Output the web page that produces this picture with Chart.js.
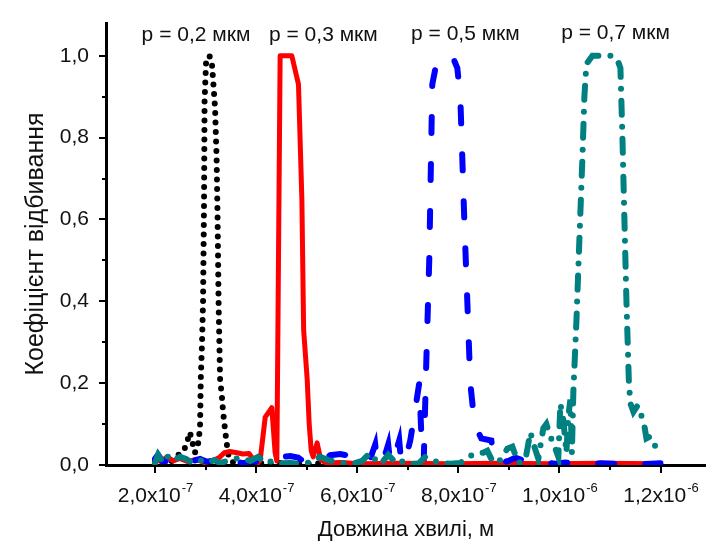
<!DOCTYPE html>
<html>
<head>
<meta charset="utf-8">
<script src="https://cdn.jsdelivr.net/npm/chart.js@4.4.0/dist/chart.umd.min.js"></script>
<style>
  html, body { margin: 0; padding: 0; background: #fff; }
  canvas { display: block; }
</style>
</head>
<body>
<canvas id="reflChart" width="706" height="544"></canvas>
<script>
// wavelength, nm  /  reflection coefficient
var wl02 = [200, 210, 220, 230, 240, 250, 257, 263, 269, 275, 279, 285, 289, 290.5, 293, 295, 297, 298, 301, 307.5,
            312.3, 315.5, 318.8, 321.8, 323.8, 325.7, 328.7, 332.1, 334.6, 338.6, 342.6, 346.5, 355, 370, 390, 420, 450, 490, 540, 600];
var r02  = [0.01, 0.005, 0.012, 0.006, 0.02, 0.028, 0.035, 0.055, 0.08, 0.05, 0.03, 0.05, 0.09, 0.21, 0.3, 0.4, 0.65, 0.89, 0.985, 1.0,
            0.985, 0.93, 0.87, 0.75, 0.6, 0.4, 0.21, 0.17, 0.13, 0.085, 0.045, 0.015, 0.006, 0.004, 0.006, 0.003, 0.005, 0.003, 0.004, 0.003];

var wl03 = [200, 212, 224, 236, 249, 265, 281, 297, 313, 327, 337, 348, 362, 374, 386, 394, 404, 408, 418, 431,
            437.6, 441, 447.5, 470.6, 483.8, 490.5, 494, 501, 505, 509, 512.8, 520.7, 528, 540, 566, 606, 685, 784, 883, 982, 1081, 1200];
var r03  = [0.015, 0.008, 0.02, 0.01, 0.016, 0.008, 0.014, 0.006, 0.01, 0.018, 0.03, 0.033, 0.03, 0.027, 0.028, 0.014, 0.006, 0.012, 0.117, 0.14,
            0.03, 0.01, 1.0, 1.0, 0.93, 0.65, 0.33, 0.21, 0.1, 0.035, 0.02, 0.054, 0.012, 0.004, 0.006, 0.003, 0.004, 0.003, 0.004, 0.003, 0.004, 0.003];

var wl05 = [200, 206, 214, 230, 245.5, 259.4, 275.2, 289, 303, 318.8, 338.6, 362.4, 374.2, 392, 411.9, 431.7, 451.5, 467.3, 483.1, 495,
            510.9, 530.7, 546.5, 566.3, 586.1, 598, 609.9, 617.8, 625.7, 635.6, 639.5, 651.4, 661.3, 665.3, 671.2, 683.1, 687.1, 695, 704.9, 712.8,
            722.7, 727.7, 731.6, 736.6, 742.5, 748.5, 756.4, 778.2, 788.1, 798, 803.9, 807.9, 811.8, 817.8, 823.7, 829.6, 835.6, 845.5, 865.3, 871.2,
            883.1, 899, 912.8, 926.7, 942.5, 972.2, 992, 1011.8, 1041.5, 1081.1, 1120.7, 1160.3, 1199.9];
var r05  = [0.015, 0.025, 0.01, 0.008, 0.015, 0.006, 0.01, 0.015, 0.008, 0.012, 0.006, 0.008, 0.004, 0.01, 0.005, 0.01, 0.02, 0.022, 0.018, 0.008,
            0.005, 0.01, 0.024, 0.027, 0.022, 0.008, 0.005, 0.005, 0.015, 0.05, 0.005, 0.01, 0.05, 0.005, 0.01, 0.06, 0.005, 0.01, 0.06, 0.12,
            0.2, 0.05, 0.01, 0.25, 0.5, 0.93, 0.98, 1.0, 1.0, 0.97, 0.9, 0.75, 0.6, 0.4, 0.2, 0.13, 0.09, 0.065, 0.06, 0.01,
            0.005, 0.01, 0.018, 0.012, 0.005, 0.006, 0.003, 0.006, 0.003, 0.004, 0.003, 0.002, 0.004];

var wl07 = [200, 206, 214, 221.8, 233.7, 249.5, 261.4, 273.3, 289, 303, 316.8, 328.7, 348.5, 368.3, 388.1, 403.9, 417.8, 431.7, 447.5, 467.3,
            487.1, 506.9, 526.7, 542.5, 558.4, 576.2, 596, 609.9, 621.7, 631.6, 641.5, 651.4, 661.3, 671.2, 681.1, 691, 704.9, 720.7, 734.6, 748.5,
            764.3, 784.1, 803.9, 819.7, 837.5, 849.4, 857.4, 869.3, 883.1, 897, 906.9, 918.7, 932.6, 942.5, 950.4, 958.3, 968.2, 974.2, 982.1, 992,
            997.9, 1001.9, 1007.8, 1013.8, 1017.7, 1021.7, 1024.7, 1027.6, 1033.6, 1039.5, 1045.5, 1049.4, 1053.4, 1065.3, 1104.9, 1114.8, 1120.7, 1124.7, 1128.6, 1132.6,
            1137.5, 1140.5, 1146.4, 1154.4, 1162.3, 1168.2, 1172.2, 1180.1, 1190, 1203.9];
var r07  = [0.005, 0.025, 0.01, 0.025, 0.01, 0.02, 0.015, 0.005, 0.012, 0.005, 0.012, 0.005, 0.012, 0.018, 0.01, 0.02, 0.005, 0.01, 0.004, 0.005,
            0.003, 0.006, 0.02, 0.012, 0.008, 0.004, 0.005, 0.01, 0.025, 0.01, 0.022, 0.01, 0.025, 0.012, 0.018, 0.006, 0.003, 0.003, 0.02, 0.012,
            0.005, 0.003, 0.005, 0.02, 0.03, 0.03, 0.035, 0.005, 0.012, 0.04, 0.045, 0.005, 0.012, 0.08, 0.045, 0.015, 0.09, 0.1, 0.07, 0.04,
            0.02, 0.15, 0.11, 0.03, 0.12, 0.16, 0.03, 0.18, 0.35, 0.55, 0.75, 0.9, 0.98, 1.0, 1.0, 0.99, 0.97, 0.8, 0.6, 0.4,
            0.2, 0.15, 0.13, 0.145, 0.12, 0.095, 0.065, 0.07, 0.045, 0.04];

var peakLabels = ['p = 0,2 мкм', 'p = 0,3 мкм', 'p = 0,5 мкм', 'p = 0,7 мкм'];
var peakLabelX = [281, 533, 814, 1111];
var peakLabelY = [1.049, 1.049, 1.052, 1.054];

var xMajor = [200, 400, 600, 800, 1000, 1200];
var xMinor = [300, 500, 700, 900, 1100];
var xMantissa = ['2,0x10', '4,0x10', '6,0x10', '8,0x10', '1,0x10', '1,2x10'];
var xExponent = ['-7', '-7', '-7', '-7', '-6', '-6'];
var yMajor = [0, 0.2, 0.4, 0.6, 0.8, 1.0];
var yMinor = [0.1, 0.3, 0.5, 0.7, 0.9];

var FONT = "'Liberation Sans', Arial, sans-serif";
var INK = '#111';

function pts(xs, ys) {
  return xs.map(function (x, i) { return { x: x, y: ys[i] }; });
}

// tick marks (major + minor), x labels with raised exponent, peak captions
var axisDecor = {
  id: 'axisDecor',
  afterDraw: function (chart) {
    var ctx = chart.ctx, xs = chart.scales.x, ys = chart.scales.y, a = chart.chartArea;
    ctx.save();
    ctx.strokeStyle = '#000';
    ctx.lineWidth = 2;
    function tick(x1, y1, x2, y2) {
      ctx.beginPath(); ctx.moveTo(x1, y1); ctx.lineTo(x2, y2); ctx.stroke();
    }
    xMajor.forEach(function (v) { var p = Math.round(xs.getPixelForValue(v)); tick(p, a.bottom, p, a.bottom + 8); });
    xMinor.forEach(function (v) { var p = Math.round(xs.getPixelForValue(v)); tick(p, a.bottom, p, a.bottom + 5); });
    yMajor.forEach(function (v) { var p = Math.round(ys.getPixelForValue(v)); tick(a.left, p, a.left - 7, p); });
    yMinor.forEach(function (v) { var p = Math.round(ys.getPixelForValue(v)); tick(a.left, p, a.left - 4, p); });

    ctx.fillStyle = INK;
    ctx.textBaseline = 'middle';
    ctx.textAlign = 'left';
    var big = '21px ' + FONT, small = '13px ' + FONT;
    xMajor.forEach(function (v, i) {
      ctx.font = big;
      var w1 = ctx.measureText(xMantissa[i]).width;
      ctx.font = small;
      var w2 = ctx.measureText(xExponent[i]).width;
      var left = xs.getPixelForValue(v) - (w1 + w2) / 2;
      var cy = a.bottom + 31;
      ctx.font = big;
      ctx.fillText(xMantissa[i], left, cy);
      ctx.font = small;
      ctx.fillText(xExponent[i], left + w1 + 1, cy - 8);
    });

    ctx.font = '21px ' + FONT;
    ctx.textAlign = 'center';
    peakLabels.forEach(function (t, i) {
      ctx.fillText(t, xs.getPixelForValue(peakLabelX[i]), ys.getPixelForValue(peakLabelY[i]));
    });
    ctx.restore();
  }
};

new Chart(document.getElementById('reflChart'), {
  type: 'line',
  data: {
    datasets: [
      { label: 'p = 0,2 мкм', data: pts(wl02, r02), borderColor: '#000', borderWidth: 6,
        borderDash: [0, 9.5], borderCapStyle: 'round', order: 3 },
      { label: 'p = 0,3 мкм', data: pts(wl03, r03), borderColor: '#ff0000', borderWidth: 5,
        borderJoinStyle: 'round', order: 2 },
      { label: 'p = 0,5 мкм', data: pts(wl05, r05), borderColor: '#0000ff', borderWidth: 6,
        borderDash: [16, 31], borderCapStyle: 'round', order: 1 },
      { label: 'p = 0,7 мкм', data: pts(wl07, r07), borderColor: '#008080', borderWidth: 6,
        borderDash: [14, 12, 0, 12], borderCapStyle: 'round', order: 0 }
    ]
  },
  options: {
    responsive: false,
    animation: false,
    devicePixelRatio: 1,
    layout: { padding: { top: 23, right: 0, left: 0, bottom: 0 } },
    elements: { point: { radius: 0 }, line: { tension: 0, fill: false } },
    plugins: { legend: { display: false }, tooltip: { enabled: false } },
    scales: {
      x: {
        type: 'linear', min: 103, max: 1290,
        afterBuildTicks: function (s) { s.ticks = xMajor.map(function (v) { return { value: v }; }); },
        afterFit: function (s) { s.height = 79; },
        grid: { display: false },
        border: { display: true, color: '#000', width: 3 },
        ticks: { display: false },
        title: { display: true, text: 'Довжина хвилі, м', color: INK,
                 font: { family: FONT, size: 22 }, padding: { top: 0, bottom: 1 } }
      },
      y: {
        type: 'linear', min: 0, max: 1.08,
        afterBuildTicks: function (s) { s.ticks = yMajor.map(function (v) { return { value: v }; }); },
        afterFit: function (s) { s.width = 106; },
        grid: { display: false },
        border: { display: true, color: '#000', width: 3 },
        ticks: { color: INK, padding: 9, font: { family: FONT, size: 21 },
                 callback: function (v) { return v.toFixed(1).replace('.', ','); } },
        title: { display: true, text: 'Коефіцієнт відбивання', color: INK,
                 font: { family: FONT, size: 25 }, padding: { top: 21, bottom: 0 } }
      }
    }
  },
  plugins: [axisDecor]
});
</script>
</body>
</html>
